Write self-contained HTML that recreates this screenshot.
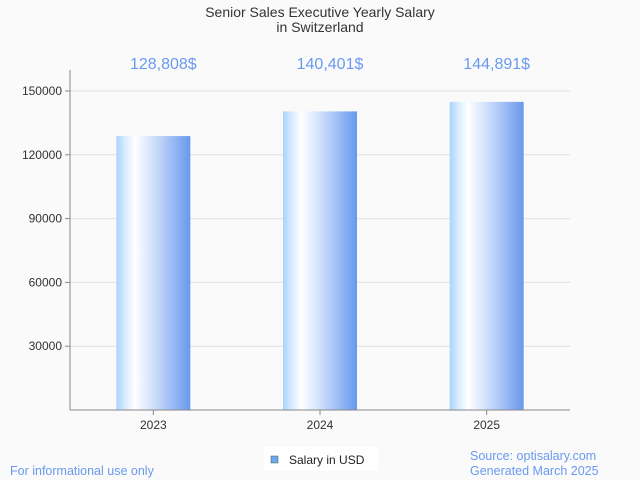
<!DOCTYPE html>
<html><head><meta charset="utf-8"><style>
body{margin:0;background:#fafafa;}
svg{display:block;font-family:"Liberation Sans",sans-serif;}
</style></head><body>
<svg width="640" height="480" viewBox="0 0 640 480">
<defs>
<linearGradient id="bg" x1="0" x2="1" y1="0" y2="0">
<stop offset="0" stop-color="#a8d4ff"/>
<stop offset="0.12" stop-color="#d8ecff"/>
<stop offset="0.25" stop-color="#ffffff"/>
<stop offset="0.5" stop-color="#d0e0fb"/>
<stop offset="1" stop-color="#6898ee"/>
</linearGradient>
</defs>
<rect width="640" height="480" fill="#fafafa"/>
<text x="320" y="17" text-anchor="middle" font-size="14" fill="#333">Senior Sales Executive Yearly Salary</text>
<text x="320" y="32" text-anchor="middle" font-size="14" fill="#333">in Switzerland</text>
<g id="grid"></g>
<g id="bars"></g>
<line x1="70" y1="70" x2="70" y2="410" stroke="#888"/>
<line x1="70" y1="410" x2="570" y2="410" stroke="#888"/>
<text x="10" y="475" font-size="12.5" fill="#6a9af0">For informational use only</text>
<text x="470" y="460" font-size="12.5" fill="#6a9af0">Source: optisalary.com</text>
<text x="470" y="475" font-size="12.5" fill="#6a9af0">Generated March 2025</text>
<g>
<rect x="264" y="447" width="114" height="24" fill="#fff"/>
<rect x="271" y="456" width="7" height="7" fill="#6aa8f0" stroke="#555" stroke-width="0.5"/>
<text x="289" y="464" font-size="12" fill="#222">Salary in USD</text>
</g>
</svg>
<script>
const categories=["2023","2024","2025"];
const values=[128808,140401,144891];
const valueLabels=["128,808$","140,401$","144,891$"];
const yTicks=[30000,60000,90000,120000,150000];
const NS="http://www.w3.org/2000/svg";
const x0=70,x1=570,y0=410,yMax=150000,yTop=91;
function y(v){return y0-v*(y0-yTop)/yMax;}
function xc(i){return x0+(i+0.5)*(x1-x0)/categories.length;}
const grid=document.getElementById('grid'),bars=document.getElementById('bars');
function mk(t,a,p){const e=document.createElementNS(NS,t);for(const k in a)e.setAttribute(k,a[k]);p.appendChild(e);return e;}
yTicks.forEach(t=>{
 const l=mk('line',{x1:x0,x2:x1,y1:y(t),y2:y(t),stroke:'#e0e0e0'},grid);
 
 
 const k=mk('line',{x1:x0-5,x2:x0,y1:y(t),y2:y(t),stroke:'#888'},grid);
 
 
 const tx=mk('text',{x:x0-8,y:y(t)+4,'text-anchor':'end','font-size':12,fill:'#333'},grid);
 tx.textContent=t;
 
 
});
categories.forEach((c,i)=>{
 const cx=xc(i),w=74;
 const r=mk('rect',{x:cx-w/2,y:y(values[i]),width:w,height:y0-y(values[i]),fill:'url(#bg)'},bars);
 
 
 const k=mk('line',{x1:cx,x2:cx,y1:y0,y2:y0+5,stroke:'#888'},bars);
 
 
 const t=mk('text',{x:cx,y:429,'text-anchor':'middle','font-size':12,fill:'#333'},bars);
 t.textContent=c;
 
 
 const v=mk('text',{x:cx+10,y:69,'text-anchor':'middle','font-size':16,fill:'#6a9af0'},bars);
 v.textContent=valueLabels[i];
 
 
});
</script>
</body></html>
